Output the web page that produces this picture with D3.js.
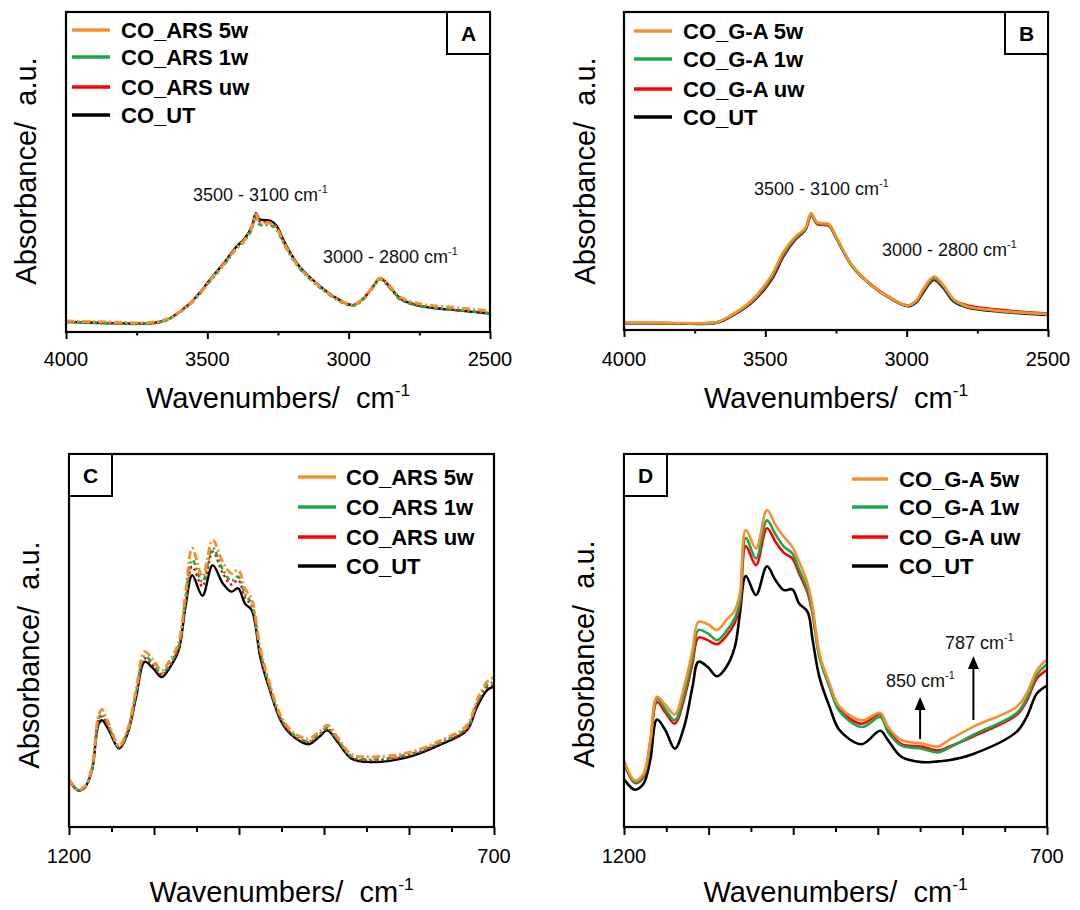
<!DOCTYPE html>
<html>
<head>
<meta charset="utf-8">
<script src="https://cdn.jsdelivr.net/npm/d3@7"></script>
<style>
  html, body { margin: 0; padding: 0; background: #fff; }
  svg { display: block; font-family: "Liberation Sans", Arial, sans-serif; }
</style>
</head>
<body>
<svg id="chart" width="1080" height="910"></svg>
<script>
// ---------------- data ----------------
const namesARS = ["CO_ARS 5w", "CO_ARS 1w", "CO_ARS uw", "CO_UT"];
const namesGA  = ["CO_G-A 5w", "CO_G-A 1w", "CO_G-A uw", "CO_UT"];

const tickLabelsHigh = [4000, 3500, 3000, 2500];
const tickLabelsLow  = [1200, 700];

// Panel A: 4000-2500 cm-1, ARS series
const wnA = [4000, 3900, 3800, 3750, 3700, 3660, 3632, 3600, 3561, 3525, 3491, 3460, 3437, 3402, 3367, 3343, 3328, 3316, 3300, 3278, 3257, 3225, 3178, 3113, 3042, 2986, 2948, 2910, 2889, 2860, 2818, 2759, 2700, 2630, 2560, 2500];
const aUT = [0.032, 0.029, 0.027, 0.026, 0.027, 0.033, 0.043, 0.062, 0.090, 0.125, 0.163, 0.196, 0.220, 0.262, 0.293, 0.329, 0.371, 0.352, 0.350, 0.348, 0.334, 0.277, 0.209, 0.152, 0.105, 0.084, 0.105, 0.147, 0.168, 0.147, 0.105, 0.084, 0.075, 0.069, 0.063, 0.058];
const aUW = [0.032, 0.029, 0.027, 0.026, 0.027, 0.033, 0.043, 0.062, 0.090, 0.124, 0.161, 0.194, 0.218, 0.259, 0.290, 0.326, 0.366, 0.346, 0.344, 0.343, 0.330, 0.273, 0.206, 0.150, 0.104, 0.084, 0.104, 0.146, 0.167, 0.146, 0.105, 0.085, 0.076, 0.070, 0.064, 0.059];
const a1W = [0.031, 0.028, 0.026, 0.025, 0.026, 0.032, 0.042, 0.060, 0.087, 0.121, 0.158, 0.190, 0.214, 0.255, 0.286, 0.320, 0.360, 0.336, 0.334, 0.334, 0.322, 0.268, 0.203, 0.147, 0.101, 0.082, 0.102, 0.144, 0.165, 0.143, 0.102, 0.083, 0.075, 0.069, 0.064, 0.059];
const a5W = [0.034, 0.032, 0.030, 0.028, 0.030, 0.035, 0.044, 0.062, 0.089, 0.123, 0.161, 0.193, 0.217, 0.258, 0.289, 0.325, 0.368, 0.343, 0.340, 0.340, 0.327, 0.272, 0.206, 0.150, 0.104, 0.085, 0.105, 0.147, 0.169, 0.149, 0.109, 0.090, 0.082, 0.077, 0.071, 0.066];

// Panel B: 4000-2500 cm-1, G-A series
const wnB = [4000, 3900, 3800, 3671, 3623, 3551, 3479, 3437, 3395, 3359, 3338, 3317, 3275, 3251, 3191, 3119, 3048, 2994, 2964, 2940, 2904, 2874, 2832, 2784, 2676, 2500];
const bUT = [0.021, 0.021, 0.020, 0.023, 0.042, 0.084, 0.157, 0.230, 0.283, 0.314, 0.362, 0.337, 0.330, 0.293, 0.199, 0.136, 0.094, 0.075, 0.089, 0.120, 0.157, 0.136, 0.089, 0.071, 0.058, 0.047];
const bUW = [0.022, 0.022, 0.021, 0.024, 0.043, 0.086, 0.160, 0.233, 0.285, 0.315, 0.362, 0.333, 0.327, 0.292, 0.200, 0.138, 0.096, 0.077, 0.092, 0.124, 0.160, 0.140, 0.094, 0.077, 0.064, 0.052];
const b1W = [0.022, 0.022, 0.021, 0.024, 0.044, 0.088, 0.165, 0.238, 0.288, 0.317, 0.364, 0.336, 0.330, 0.294, 0.198, 0.136, 0.095, 0.077, 0.093, 0.127, 0.163, 0.141, 0.093, 0.073, 0.060, 0.050];
const b5W = [0.023, 0.023, 0.022, 0.025, 0.045, 0.091, 0.171, 0.245, 0.293, 0.320, 0.368, 0.339, 0.333, 0.296, 0.201, 0.137, 0.096, 0.077, 0.095, 0.131, 0.168, 0.146, 0.095, 0.074, 0.061, 0.050];

// Panel C: 1200-700 cm-1, ARS series
const wnC = [1200, 1189, 1181, 1173, 1165, 1161, 1153, 1141, 1131, 1121, 1111, 1101, 1091, 1081, 1071, 1063, 1055, 1043, 1031, 1019, 1009, 1001, 993, 985, 975, 965, 949, 933, 918, 906, 896, 884, 868, 846, 800, 760, 732, 720, 708, 700];
const cUT = [0.125, 0.098, 0.107, 0.152, 0.277, 0.286, 0.259, 0.210, 0.251, 0.349, 0.443, 0.425, 0.402, 0.429, 0.474, 0.590, 0.675, 0.620, 0.702, 0.653, 0.631, 0.640, 0.599, 0.581, 0.456, 0.376, 0.277, 0.237, 0.222, 0.241, 0.259, 0.228, 0.184, 0.174, 0.188, 0.224, 0.259, 0.322, 0.367, 0.376];
const cUW = [0.125, 0.098, 0.108, 0.154, 0.287, 0.296, 0.265, 0.212, 0.254, 0.354, 0.452, 0.433, 0.408, 0.434, 0.480, 0.600, 0.698, 0.645, 0.738, 0.680, 0.650, 0.662, 0.615, 0.592, 0.466, 0.382, 0.281, 0.240, 0.227, 0.245, 0.263, 0.231, 0.187, 0.178, 0.192, 0.227, 0.262, 0.328, 0.374, 0.380];
const c1W = [0.126, 0.099, 0.108, 0.156, 0.292, 0.302, 0.268, 0.214, 0.256, 0.358, 0.458, 0.437, 0.412, 0.438, 0.484, 0.607, 0.716, 0.657, 0.748, 0.690, 0.660, 0.671, 0.625, 0.598, 0.470, 0.385, 0.284, 0.243, 0.230, 0.248, 0.266, 0.234, 0.190, 0.181, 0.195, 0.230, 0.266, 0.332, 0.380, 0.389];
const c5W = [0.128, 0.100, 0.110, 0.160, 0.300, 0.315, 0.275, 0.218, 0.262, 0.368, 0.470, 0.448, 0.420, 0.448, 0.495, 0.625, 0.747, 0.672, 0.769, 0.710, 0.680, 0.689, 0.640, 0.610, 0.480, 0.392, 0.290, 0.248, 0.237, 0.255, 0.273, 0.240, 0.195, 0.188, 0.200, 0.235, 0.272, 0.340, 0.390, 0.402];

// Panel D: 1200-700 cm-1, G-A series
const wnD = [1199, 1187, 1177, 1169, 1161, 1151, 1140, 1129, 1119, 1112, 1101, 1090, 1079, 1069, 1063, 1056, 1044, 1031, 1021, 1011, 1001, 993, 983, 977, 969, 957, 945, 919, 897, 888, 872, 848, 829, 816, 788, 736, 724, 712, 701];
const dUT = [0.125, 0.100, 0.116, 0.179, 0.288, 0.259, 0.210, 0.268, 0.376, 0.443, 0.429, 0.404, 0.429, 0.483, 0.572, 0.673, 0.622, 0.699, 0.662, 0.635, 0.637, 0.599, 0.577, 0.501, 0.402, 0.322, 0.259, 0.222, 0.258, 0.233, 0.188, 0.174, 0.176, 0.179, 0.195, 0.255, 0.295, 0.358, 0.378];
const dUW = [0.165, 0.118, 0.134, 0.222, 0.335, 0.307, 0.277, 0.343, 0.440, 0.508, 0.501, 0.490, 0.512, 0.548, 0.595, 0.753, 0.702, 0.801, 0.765, 0.735, 0.720, 0.680, 0.628, 0.570, 0.460, 0.378, 0.315, 0.277, 0.303, 0.262, 0.222, 0.216, 0.205, 0.215, 0.242, 0.300, 0.338, 0.398, 0.420];
const d1W = [0.168, 0.120, 0.138, 0.226, 0.344, 0.315, 0.286, 0.355, 0.455, 0.528, 0.519, 0.501, 0.525, 0.560, 0.605, 0.775, 0.720, 0.822, 0.785, 0.752, 0.733, 0.690, 0.635, 0.575, 0.455, 0.375, 0.310, 0.268, 0.295, 0.255, 0.218, 0.210, 0.200, 0.212, 0.246, 0.305, 0.345, 0.408, 0.434];
const d5W = [0.174, 0.125, 0.143, 0.233, 0.349, 0.327, 0.302, 0.376, 0.474, 0.550, 0.544, 0.528, 0.555, 0.581, 0.626, 0.796, 0.747, 0.850, 0.810, 0.778, 0.751, 0.711, 0.653, 0.590, 0.465, 0.385, 0.322, 0.286, 0.306, 0.268, 0.233, 0.224, 0.216, 0.233, 0.268, 0.322, 0.358, 0.420, 0.447];

// ---------------- styles ----------------
const ORANGE = "#F5902E", GREEN = "#1AA64A", RED = "#FF0000", BLACK = "#000000";
const styleDashed = [
  { color: ORANGE, width: 3,   dash: "8,3,2,3" },
  { color: GREEN,  width: 2.6, dash: "5,3,2,3" },
  { color: RED,    width: 2.4, dash: "2.5,3" },
  { color: BLACK,  width: 2.4, dash: null }
];
const styleSolid = [
  { color: ORANGE, width: 2.6, dash: null },
  { color: GREEN,  width: 2.6, dash: null },
  { color: RED,    width: 2.6, dash: null },
  { color: BLACK,  width: 2.6, dash: null }
];

const panels = [
  { label: "A", x0: 66, x1: 490, y0: 12, y1: 332, domain: [4000, 2500],
    major: [4000, 3500, 3000, 2500], minor: [3750, 3250, 2750], labels: tickLabelsHigh,
    majorLen: 7, minorLen: 3.5, wn: wnA, values: [a5W, a1W, aUW, aUT], names: namesARS, styles: styleDashed,
    box: "right", legend: { lx0: 72, lx1: 110, tx: 121, rows: [30, 57, 87, 115] },
    yTitle: { x: 36, y: 171 }, xTitleY: 408, tickLabelY: 366,
    notes: [ { text: "3500 - 3100 cm", x: 193, y: 201 }, { text: "3000 - 2800 cm", x: 323, y: 263 } ],
    arrows: [] },
  { label: "B", x0: 624, x1: 1048, y0: 12, y1: 330, domain: [4000, 2500],
    major: [4000, 3500, 3000, 2500], minor: [3750, 3250, 2750], labels: tickLabelsHigh,
    majorLen: 7, minorLen: 3.5, wn: wnB, values: [b5W, b1W, bUW, bUT], names: namesGA, styles: styleSolid,
    box: "right", legend: { lx0: 634, lx1: 672, tx: 683, rows: [31, 59, 89, 117] },
    yTitle: { x: 595, y: 171 }, xTitleY: 408, tickLabelY: 366,
    notes: [ { text: "3500 - 3100 cm", x: 754, y: 195 }, { text: "3000 - 2800 cm", x: 882, y: 256 } ],
    arrows: [] },
  { label: "C", x0: 69, x1: 494, y0: 454, y1: 827, domain: [1200, 700],
    major: [1200, 1100, 1000, 900, 800, 700], minor: [1150, 1050, 950, 850, 750], labels: tickLabelsLow,
    majorLen: 8, minorLen: 5, wn: wnC, values: [c5W, c1W, cUW, cUT], names: namesARS, styles: styleDashed,
    box: "left", legend: { lx0: 298, lx1: 336, tx: 346, rows: [477, 507, 537, 566] },
    yTitle: { x: 39, y: 655 }, xTitleY: 902, tickLabelY: 863,
    notes: [], arrows: [] },
  { label: "D", x0: 624, x1: 1047, y0: 454, y1: 827, domain: [1200, 700],
    major: [1200, 1100, 1000, 900, 800, 700], minor: [1150, 1050, 950, 850, 750], labels: tickLabelsLow,
    majorLen: 8, minorLen: 5, wn: wnD, values: [d5W, d1W, dUW, dUT], names: namesGA, styles: styleSolid,
    box: "left", legend: { lx0: 852, lx1: 888, tx: 899, rows: [479, 507, 537, 566] },
    yTitle: { x: 594, y: 654 }, xTitleY: 902, tickLabelY: 863,
    notes: [ { text: "850 cm", x: 886, y: 687 }, { text: "787 cm", x: 945, y: 649 } ],
    arrows: [ { at: 850, tip: 697, base: 739 }, { at: 787, tip: 656, base: 720 } ] }
];

// ---------------- drawing ----------------
const svg = d3.select("#chart");
const FONT = '"Liberation Sans", Arial, sans-serif';

function appendInverseCm(textSel, base, size) {
  textSel.append("tspan").text(base);
  textSel.append("tspan").attr("font-size", size * 0.6).attr("dy", -size * 0.42).text("-1");
}

panels.forEach(p => {
  const g = svg.append("g");
  const x = d3.scaleLinear().domain(p.domain).range([p.x0, p.x1]);
  const y = d3.scaleLinear().domain([0, 1]).range([p.y1, p.y0]);

  // spectra (drawn from the untreated reference upward)
  const line = d3.line()
    .x(d => x(d[0]))
    .y(d => y(d[1]))
    .curve(d3.curveCatmullRom.alpha(0.5));

  const clipId = "clip" + p.label;
  svg.append("clipPath").attr("id", clipId)
    .append("rect").attr("x", p.x0).attr("y", p.y0)
    .attr("width", p.x1 - p.x0).attr("height", p.y1 - p.y0);

  const curves = g.append("g").attr("clip-path", `url(#${clipId})`);
  for (let i = p.values.length - 1; i >= 0; i--) {
    const st = p.styles[i];
    const pts = p.wn.map((w, k) => [w, p.values[i][k]]);
    curves.append("path")
      .attr("d", line(pts))
      .attr("fill", "none")
      .attr("stroke", st.color)
      .attr("stroke-width", st.width)
      .attr("stroke-linejoin", "round")
      .attr("stroke-linecap", st.dash ? "butt" : "round")
      .attr("stroke-dasharray", st.dash);
  }

  // bottom axis ticks
  const majorAxis = d3.axisBottom(x).tickValues(p.major).tickSize(p.majorLen).tickFormat("");
  const minorAxis = d3.axisBottom(x).tickValues(p.minor).tickSize(p.minorLen).tickFormat("");
  [majorAxis, minorAxis].forEach(ax => {
    const a = g.append("g").attr("transform", `translate(0,${p.y1})`).call(ax);
    a.select(".domain").remove();
    a.selectAll(".tick line").attr("stroke", "#000").attr("stroke-width", 2);
  });

  // tick labels
  g.append("g").selectAll("text").data(p.labels).join("text")
    .attr("x", d => x(d))
    .attr("y", p.tickLabelY)
    .attr("text-anchor", "middle")
    .attr("font-family", FONT)
    .attr("font-size", 20)
    .attr("fill", "#000")
    .text(d => d);

  // frame
  g.append("rect")
    .attr("x", p.x0).attr("y", p.y0)
    .attr("width", p.x1 - p.x0).attr("height", p.y1 - p.y0)
    .attr("fill", "none").attr("stroke", "#000").attr("stroke-width", 2.2);

  // panel letter box
  const bw = 43, bh = 42;
  const bx = p.box === "right" ? p.x1 - bw : p.x0;
  g.append("rect")
    .attr("x", bx).attr("y", p.y0).attr("width", bw).attr("height", bh)
    .attr("fill", "#fff").attr("stroke", "#000").attr("stroke-width", 2);
  g.append("text")
    .attr("x", bx + bw / 2).attr("y", p.y0 + bh / 2 + 7.5)
    .attr("text-anchor", "middle")
    .attr("font-family", FONT).attr("font-weight", "bold").attr("font-size", 21)
    .text(p.label);

  // legend
  p.names.forEach((name, i) => {
    const ry = p.legend.rows[i];
    g.append("line")
      .attr("x1", p.legend.lx0).attr("x2", p.legend.lx1)
      .attr("y1", ry).attr("y2", ry)
      .attr("stroke", p.styles[i].color).attr("stroke-width", 3.5);
    g.append("text")
      .attr("x", p.legend.tx).attr("y", ry + 8)
      .attr("font-family", FONT).attr("font-weight", "bold").attr("font-size", 22)
      .text(name);
  });

  // axis titles
  const xt = g.append("text")
    .attr("x", (p.x0 + p.x1) / 2).attr("y", p.xTitleY)
    .attr("text-anchor", "middle")
    .attr("font-family", FONT).attr("font-size", 29);
  appendInverseCm(xt, "Wavenumbers/\u00a0\u00a0cm", 29);

  g.append("text")
    .attr("transform", `translate(${p.yTitle.x},${p.yTitle.y}) rotate(-90)`)
    .attr("text-anchor", "middle")
    .attr("font-family", FONT).attr("font-size", 29)
    .text("Absorbance/\u00a0\u00a0a.u.");

  // band annotations
  p.notes.forEach(n => {
    const t = g.append("text").attr("x", n.x).attr("y", n.y)
      .attr("font-family", FONT).attr("font-size", 18).attr("fill", "#111");
    appendInverseCm(t, n.text, 18);
  });

  // arrows marking growing bands
  p.arrows.forEach(a => {
    const ax = x(a.at);
    g.append("line")
      .attr("x1", ax).attr("x2", ax).attr("y1", a.base).attr("y2", a.tip + 10)
      .attr("stroke", "#000").attr("stroke-width", 2);
    g.append("path")
      .attr("d", `M${ax},${a.tip} L${ax - 5.5},${a.tip + 13} L${ax + 5.5},${a.tip + 13} Z`)
      .attr("fill", "#000");
  });
});
</script>
</body>
</html>
